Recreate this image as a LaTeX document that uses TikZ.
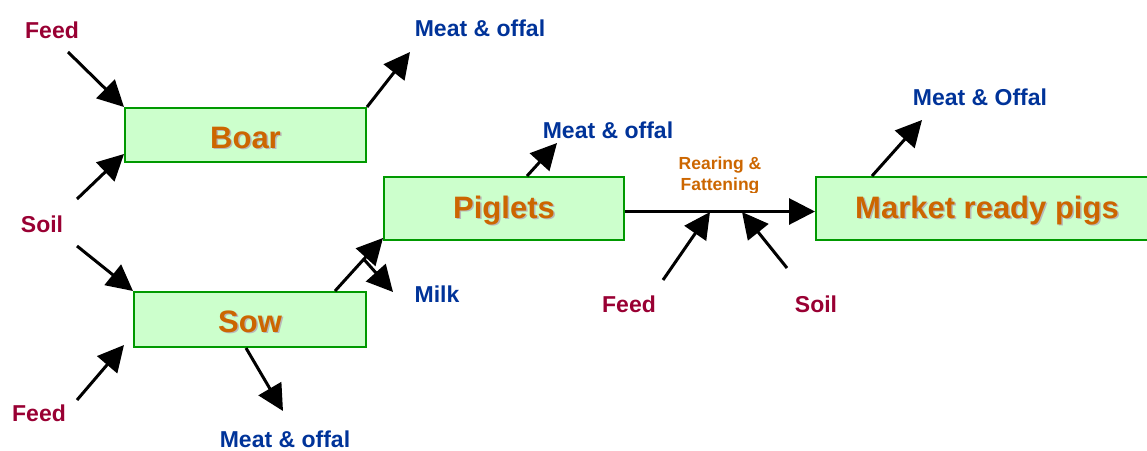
\documentclass[tikz,border=0pt]{standalone}
\usepackage{fontspec}
\setmainfont{Liberation Sans}
\usetikzlibrary{arrows.meta,calc}
\definecolor{inred}{RGB}{153,0,51}
\definecolor{outblue}{RGB}{0,51,153}
\definecolor{boxorange}{RGB}{204,102,0}
\definecolor{boxfill}{RGB}{204,255,204}
\definecolor{boxline}{RGB}{0,153,0}
\tikzset{
  box/.style={draw=boxline, fill=boxfill, line width=2pt, inner sep=0pt},
  inlbl/.style={text=inred, font=\bfseries\fontsize{23}{26}\selectfont, anchor=base, inner sep=0pt},
  outlbl/.style={text=outblue, font=\bfseries\fontsize{23}{26}\selectfont, anchor=base, inner sep=0pt},
  boxtxt/.style={text=boxorange, font=\bfseries\fontsize{31}{34}\selectfont, anchor=base, inner sep=0pt},
  boxshadow/.style={text=black!28, font=\bfseries\fontsize{31}{34}\selectfont, anchor=base, inner sep=0pt},
  reartxt/.style={text=boxorange, font=\bfseries\fontsize{17.5}{20.5}\selectfont, anchor=base, inner sep=0pt},
  flow/.style={line width=3pt, -{Triangle[length=26pt,width=26pt]}},
}
\begin{document}
\begin{tikzpicture}[x=1pt,y=-1pt]
\useasboundingbox (0,0) rectangle (1147,450);
\clip (0,0) rectangle (1147,450);

% boxes
\node[box, minimum width=241pt, minimum height=54pt] (boar) at (245.5,135) {};
\node[box, minimum width=232pt, minimum height=55pt] (sow) at (250,319.5) {};
\node[box, minimum width=240pt, minimum height=63pt] (pig) at (504,208.5) {};
\node[box, minimum width=344pt, minimum height=63pt] (mkt) at (988,208.5) {};

% box texts with shadow
\node[boxshadow] (boartsh) at (247,149.5) {Boar};
\node[boxtxt] (boart) at (245.5,148) {Boar};
\node[boxshadow] (sowtsh) at (251.5,333.5) {Sow};
\node[boxtxt] (sowt) at (250,332) {Sow};
\node[boxshadow] (pigtsh) at (505.5,219.5) {Piglets};
\node[boxtxt] (pigt) at (504,218) {Piglets};
\node[boxshadow] (mkttsh) at (988.5,219.5) {Market ready pigs};
\node[boxtxt] (mktt) at (987,218) {Market ready pigs};

% labels
\node[inlbl] (feed1) at (52,38) {Feed};
\node[inlbl] (soil1) at (42,232) {Soil};
\node[inlbl] (feed2) at (39,421) {Feed};
\node[inlbl] (feed3) at (629,312) {Feed};
\node[inlbl] (soil3) at (816,312) {Soil};
\node[outlbl] (meat1) at (480,36) {Meat \& offal};
\node[outlbl] (meat2) at (285,447) {Meat \& offal};
\node[outlbl] (meat3) at (608,138) {Meat \& offal};
\node[outlbl] (meat4) at (980,105) {Meat \& Offal};
\node[outlbl] (milk) at (437,302) {Milk};
\node[reartxt] (rear1) at (720,169) {Rearing \&};
\begin{scope}
\clip (640,175) rectangle (800,192);
\node[reartxt] (rear2) at (720,190) {Fattening};
\end{scope}

% free ends
\coordinate (f1t) at (68,52);
\coordinate (m1h) at (410,52);
\coordinate (s1t) at (77,199);
\coordinate (s2t) at (77,246);
\coordinate (f2t) at (77,400);
\coordinate (m2h) at (283,411);
\coordinate (milkh) at (393,292);
\coordinate (m3h) at (557,143);
\coordinate (f3t) at (663,280);
\coordinate (f3h) at (710,212);
\coordinate (s3t) at (787,268);
\coordinate (s3h) at (742,212);
\coordinate (m4h) at (922,120);

% connectors
\draw[flow] (f1t) -- (boar.north west);
\draw[flow] (boar.north east) -- (m1h);
\draw[flow] (s1t) -- ([yshift=9pt]boar.south west);
\draw[flow] (s2t) -- (sow.north west);
\draw[flow] (f2t) -- ([xshift=-9pt,yshift=3pt]sow.south west);
\draw[flow] ([xshift=113pt]sow.south west) -- (m2h);
\coordinate (sp0) at ([xshift=202pt]sow.north west);
\coordinate (sp1) at ([yshift=3pt]pig.south west);
\draw[flow] (sp0) -- (sp1);
\draw[flow] ($(sp0)!0.6!(sp1)$) -- (milkh);
\draw[flow] ([xshift=144pt]pig.north west) -- (m3h);
\draw[flow] ([yshift=-3pt]pig.east) -- ([yshift=-3pt]mkt.west);
\draw[flow] (f3t) -- (f3h);
\draw[flow] (s3t) -- (s3h);
\draw[flow] ([xshift=57pt]mkt.north west) -- (m4h);
\end{tikzpicture}
\end{document}
